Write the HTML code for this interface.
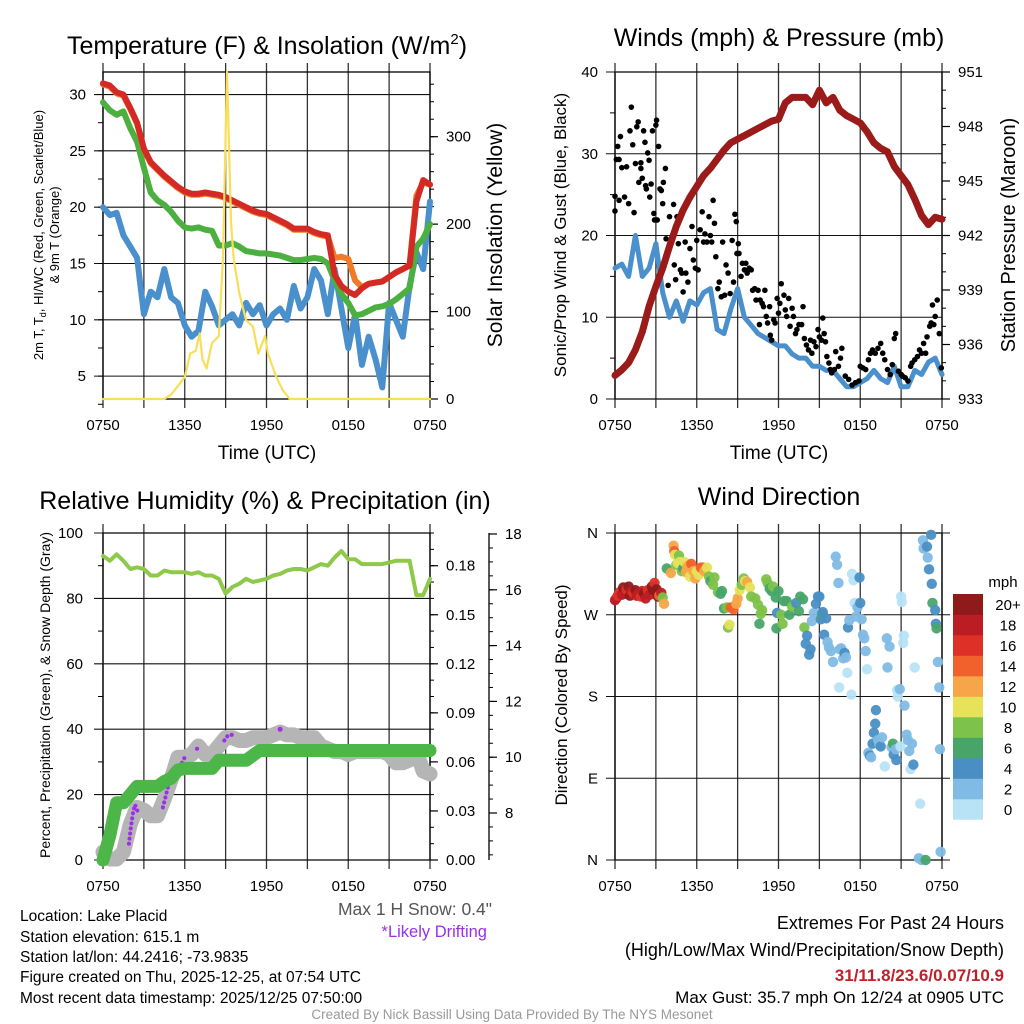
<!DOCTYPE html>
<html><head><meta charset="utf-8"><style>
html,body{margin:0;padding:0;background:#fff;}
svg{display:block;font-family:"Liberation Sans",sans-serif;}
</style></head><body>
<svg id="chart" width="1024" height="1024" viewBox="0 0 1024 1024" xmlns="http://www.w3.org/2000/svg">
<rect width="1024" height="1024" fill="#fff"/>
<text x="267" y="54" font-size="25" text-anchor="middle">Temperature (F) &amp; Insolation (W/m<tspan font-size="15" dy="-10">2</tspan><tspan dy="10">)</tspan></text>
<text x="779" y="46" font-size="25" text-anchor="middle">Winds (mph) &amp; Pressure (mb)</text>
<text x="265" y="509" font-size="25" text-anchor="middle">Relative Humidity (%) &amp; Precipitation (in)</text>
<text x="779" y="505" font-size="25" text-anchor="middle">Wind Direction</text>

<text transform="translate(43,235) rotate(-90)" font-size="13" text-anchor="middle">2m T, T<tspan font-size="9" dy="3">d</tspan><tspan dy="-3">, HI/WC (Red, Green, Scarlet/Blue)</tspan></text>
<text transform="translate(59,235) rotate(-90)" font-size="13" text-anchor="middle">&amp; 9m T (Orange)</text>
<text transform="translate(502,235) rotate(-90)" font-size="21" text-anchor="middle">Solar Insolation (Yellow)</text>
<text x="267" y="459" font-size="19" text-anchor="middle">Time (UTC)</text>

<text transform="translate(566,235) rotate(-90)" font-size="17" text-anchor="middle">Sonic/Prop Wind &amp; Gust (Blue, Black)</text>
<text transform="translate(1015,235) rotate(-90)" font-size="20" text-anchor="middle">Station Pressure (Maroon)</text>
<text x="779" y="459" font-size="19" text-anchor="middle">Time (UTC)</text>

<text transform="translate(50,695) rotate(-90)" font-size="14" text-anchor="middle">Percent, Precipitation (Green), &amp; Snow Depth (Gray)</text>
<text transform="translate(567,695) rotate(-90)" font-size="17" text-anchor="middle">Direction (Colored By Speed)</text>
<text x="1003" y="587" font-size="15" text-anchor="middle">mph</text>

<text x="492" y="915" font-size="17.5" fill="#555" text-anchor="end">Max 1 H Snow: 0.4"</text>
<text x="487" y="937" font-size="16.5" fill="#9b30e8" text-anchor="end">*Likely Drifting</text>
<g font-size="15.5">
<text x="20" y="921">Location: Lake Placid</text>
<text x="20" y="942">Station elevation: 615.1 m</text>
<text x="20" y="962">Station lat/lon: 44.2416; -73.9835</text>
<text x="20" y="982">Figure created on Thu, 2025-12-25, at 07:54 UTC</text>
<text x="20" y="1003">Most recent data timestamp: 2025/12/25 07:50:00</text>
</g>
<g font-size="17" text-anchor="end">
<text x="1004" y="929" font-size="18">Extremes For Past 24 Hours</text>
<text x="1004" y="956" font-size="18">(High/Low/Max Wind/Precipitation/Snow Depth)</text>
<text x="1004" y="981" font-weight="bold" fill="#c0202a">31/11.8/23.6/0.07/10.9</text>
<text x="1004" y="1003">Max Gust: 35.7 mph On 12/24 at 0905 UTC</text>
</g>
<text x="512" y="1019" font-size="13.5" fill="#999" text-anchor="middle">Created By Nick Bassill Using Data Provided By The NYS Mesonet</text>
<g id="layer"></g>
</svg>
<script>
// ---- shared time axis ----
const halfHours = [0,0.5,1,1.5,2,2.5,3,3.5,4,4.5,5,5.5,6,6.5,7,7.5,8,8.5,9,9.5,10,10.5,11,11.5,12,12.5,13,13.5,14,14.5,15,15.5,16,16.5,17,17.5,18,18.5,19,19.5,20,20.5,21,21.5,22,22.5,23,23.5,24];
const timeTickHours = [0,6,12,18,24];
const timeTickLabels = ["0750","1350","1950","0150","0750"];
// ---- panel 1 ----
const tempRed = [31,30.8,30.2,30,28.8,27.5,25.2,24,23.4,22.8,22.3,21.8,21.4,21.2,21.2,21.3,21.2,21.1,20.9,20.6,20.3,20,19.7,19.5,19.4,19.1,18.8,18.5,18.1,18.1,18.1,17.8,17.6,17.5,14,13,12.5,12.2,12.8,13.2,13.3,13.4,13.8,14.2,14.5,14.8,20.5,22.4,22];
const tempOrange = [30.9,30.7,30.1,29.9,28.7,27.4,25.1,23.9,23.3,22.7,22.2,21.7,21.3,21.1,21.1,21.2,21.1,21,20.8,20.5,20.2,19.9,19.6,19.4,19.3,19,18.7,18.4,18,18,18,17.7,17.5,17.4,15.5,15.6,15.4,13.5,12.9,13.2,13.3,13.4,13.8,14.2,14.5,14.9,21,22.2,22];
const dewGreen = [29.3,28.6,28.2,28.5,27,25.8,23.5,21.3,20.6,20.2,19.6,18.8,18.2,18.1,18.2,18,17.9,16.6,16.6,16.8,16.5,16.1,16,15.9,15.9,15.8,15.7,15.5,15.3,15.3,15.4,15.5,15.4,15,13.5,12.3,11.5,10.4,10.5,10.8,11.1,11.2,11.4,11.8,12.3,12.8,16.5,17.2,18.5];
const windChillBlue = [20,19.3,19.5,17.5,16.5,15.5,10.5,12.5,12,14.5,12,11.5,9.5,8.5,9,12.5,11.2,9.5,10,10.5,9.5,11.5,10.5,11.3,9.5,10.5,11,10,13,11,12,14.5,13.5,10.5,14.5,11,7.5,10.5,6,8.5,6.5,4,11.5,10,8.5,13,16,14.5,20.5];
const solarHours = [0,4.5,5,5.5,6,6.4,6.8,7.1,7.3,7.6,8,8.5,8.8,9.1,9.4,9.6,10,10.5,11,11.4,11.9,12.1,12.7,13.2,13.7,24];
const solarValues = [0,0,5,15,25,52,55,75,45,35,64,72,159,374,200,159,121,90,83,52,72,52,26,10,0,0];
const tempTicks = [5,10,15,20,25,30];
const solarTicks = [0,100,200,300];
// ---- panel 2 ----
const pressure = [934.3,934.6,935,935.7,936.7,938.1,939.2,940.2,941.4,942.5,943.4,944.1,944.7,945.3,945.7,946.2,946.7,947.1,947.3,947.5,947.7,947.9,948.1,948.3,948.4,949.3,949.6,949.6,949.6,949.2,950,949.3,949.6,948.9,948.6,948.4,948.2,947.7,947.1,946.8,946.6,945.8,945.3,944.8,944,943.1,942.6,943,942.9];
const windSpeed = [16,16.5,15,20,15,16,19,13,10,12,9.5,12,11.5,13,13.5,8.5,8,11,13.5,10,9,8,7.5,7,6.5,6.5,5.5,5,5,4,4,3.5,3.5,2.5,1.5,1.5,2,2.5,3.5,2.5,2,4,1.5,1.5,3.5,3,4.5,5,3];
const gustHours = [0,0,0.2,0.1,0.3,0.4,0.3,0.5,0.7,0.85,1,1.1,1.2,1.3,1.4,1.5,1.6,1.7,1.75,1.9,1.9,2,2.1,2.2,2.25,2.3,2.4,2.5,2.55,2.65,2.75,2.85,2.9,3,3.05,3.1,3.2,3.3,3.4,3.5,3.55,3.7,3.75,3.9,4,4.15,4.3,4.35,4.45,4.55,4.65,4.8,4.9,5,5.15,5.2,5.35,5.5,5.65,5.75,5.9,6,6.1,6.25,6.4,6.5,6.6,6.75,6.9,7,7.1,7.2,7.3,7.4,7.55,7.65,7.8,7.9,8.05,8.15,8.3,8.45,8.6,8.7,8.8,8.9,8.95,9.05,9.1,9.25,9.35,9.5,9.6,9.7,9.85,10,10.1,10.25,10.35,10.5,10.6,10.65,10.8,10.9,11,11.1,11.2,11.35,11.4,11.5,11.65,11.75,11.9,12,12.1,12.2,12.4,12.5,12.6,12.75,12.85,13,13.1,13.25,13.35,13.5,13.7,13.8,13.9,14.05,14.2,14.35,14.45,14.6,14.75,14.9,15,15.15,15.25,15.35,15.45,15.55,15.7,15.8,15.9,16.1,16.2,16.4,16.55,16.65,16.9,17.15,17.4,17.65,17.9,18,18.2,18.4,18.6,18.75,18.9,19.1,19.3,19.5,19.65,19.8,20,20.2,20.35,20.5,20.6,20.8,21,21.1,21.3,21.5,21.7,21.8,22,22.2,22.35,22.5,22.65,22.8,22.9,23.1,23.2,23.3,23.4,23.5,23.65,23.8,23.95];
const gustValues = [24.8,23,30.9,29.3,29.3,32.1,24.3,28.3,24.7,28.4,23.9,32.8,35.7,31.1,22.8,28.8,33.3,33.9,26.5,28.9,28.2,27,32.8,31.4,26.1,25.7,30.1,29.2,24.7,26.3,32.8,22.7,21.9,33.5,34.1,21.9,30.9,25.7,25.5,23.9,26.5,28.2,19.6,13.9,22.3,19.6,23.8,16.4,14.6,22.3,19,15.8,15.4,13.1,19.2,15.4,14.3,18.4,21.1,17,16,19.4,15.8,20.7,22.9,19.2,20.2,19.2,22.3,20,19.2,24.3,21.5,17.4,13.5,14.3,12.5,19.2,12.7,16.4,15.4,12.9,19.4,14.3,22.6,21.7,17.8,19,17.8,15,16.6,15.8,16.6,15.4,16,15.8,13.3,13.5,12.1,13.3,9.1,12.1,11.7,11.3,13.3,10.1,9.3,11.3,7.8,7.2,9.7,9.3,12.3,10.5,11.7,14.1,12.7,10.9,10.1,12.3,8.9,11.1,10.1,8,8.5,9.1,9.1,11.3,7.4,6.6,6,7.2,5.6,7,6.4,8.5,7.6,7.2,9.9,8,7,5.2,4.4,3.6,3.2,3.6,5.8,4,5,6.2,2.8,2.4,1.7,2,2.2,4,3.8,3.6,4.8,5.6,6,5.6,6.2,6.8,5.6,4.8,3.6,3,4.2,7.4,8,3.4,3,2.8,2.6,2.2,4,4.4,4.8,5.2,6,5.6,6.8,5.6,7.6,8.9,9.3,11.5,9.1,10.1,12.1,8,3.8];
const windTicks = [0,10,20,30,40];
const pressureTicks = [933,936,939,942,945,948,951];
// ---- panel 3 ----
const humidity = [93,91.5,93.5,91.5,89,89.5,89,87,87,88.5,88,88,88,87.5,88,87,87,86,81.5,83.5,84.5,86,85,85.5,86,87,87.5,88.5,89,89,88.5,89.5,90.5,90,92.5,94.5,92,92,90.5,90.5,90.5,90.5,91,91.5,91.5,91.5,81,81,86];
const precip = [0,0.015,0.035,0.035,0.04,0.045,0.045,0.045,0.045,0.048,0.05,0.055,0.056,0.056,0.056,0.056,0.056,0.061,0.061,0.061,0.061,0.061,0.064,0.067,0.067,0.067,0.067,0.067,0.067,0.067,0.067,0.067,0.067,0.067,0.067,0.067,0.067,0.067,0.067,0.067,0.067,0.067,0.067,0.067,0.067,0.067,0.067,0.067,0.067];
const snowDepth = [6.6,6.35,6.35,6.6,7.6,8.2,8.1,7.9,7.9,8.5,9.2,10,10,10.1,10.4,10.1,10.1,10.4,10.7,10.7,10.6,10.6,10.7,10.7,10.7,10.8,10.9,10.8,10.8,10.7,10.7,10.7,10.4,10.3,10.2,10.2,10.1,10.2,10.2,10.2,10.2,10.2,10.1,9.8,9.8,9.9,10.2,9.5,9.4];
const driftHours = [1.9,2.05,2.2,2.35,2.5,2.65,4.4,4.6,4.8,5,5.8,6,6.2,6.9,7.2,8.9,9.2,9.6,13];
const driftDepth = [6.9,7.5,8,8.3,8.1,8,8.2,8.6,9,9.3,9.8,10,9.9,10.3,10.3,10.6,10.8,10.8,11];
const driftSegment = [0,0,0,0,0,0,1,1,1,1,2,2,2,3,3,4,4,4,5];
const humidityTicks = [0,20,40,60,80,100];
const precipTicks = [0,0.03,0.06,0.09,0.12,0.15,0.18];
const snowTicks = [8,10,12,14,16,18];
// ---- panel 4 ----
const dirHours = [0,0.1,0.2,0.35,0.5,0.6,0.75,0.85,1,1.1,1.2,1.35,1.5,1.6,1.75,1.9,2,2.15,2.25,2.4,2.55,2.7,2.8,2.9,3.05,3.15,3.25,3.4,3.5,3.6,3.8,4.1,4.3,4.35,4.5,4.4,4.6,4.7,4.75,4.9,5,5.1,5.2,5.3,5.4,5.5,5.6,5.75,5.9,6,6.15,6.3,6.45,6.55,6.75,6.9,7,7.2,7.3,7.55,7.75,7.85,8,8.2,8.3,8.4,8.5,8.7,8.9,9,9.15,9.3,9.45,9.55,9.7,9.9,10,10.3,10.5,10.7,10.6,10.8,11.1,11.2,11.35,11.5,11.6,11.8,12,11.9,11.85,12.2,12.3,12.4,12.6,12.8,13,13.3,13.5,13.6,13.8,13.9,14,14.1,14.25,14.35,14.45,14.6,14.75,14.9,15,15.1,15.2,15.25,15.35,15.5,15.6,15.7,15.85,16,16.2,16.3,16.4,16.45,16.5,16.6,16.75,16.85,16.95,17.05,17.1,17.2,17.35,17.4,17.5,17.6,17.7,17.8,17.95,18,18.1,18.2,18.3,18.4,18.5,18.6,18.7,18.8,18.9,19,19.1,19.15,19.2,19.3,19.4,19.5,19.6,19.8,19.95,20,20.15,20.3,20.4,20.45,20.6,20.65,20.7,20.75,20.9,20.95,21,21.05,21.15,21.2,21.25,21.4,21.5,21.6,21.7,21.8,21.9,22,22.4,22.3,22.5,22.6,22.65,22.8,22.9,22.95,23.05,23.2,23.25,23.3,23.5,23.55,23.6,23.7,23.8,23.85,23.9];
const dirDegrees = [286,288,291,295,292,300,293,298,301,291,296,294,297,291,294,290,296,293,288,297,292,301,297,305,298,290,291,294,289,282,321,316,346,340,325,336,327,335,328,318,321,328,317,322,324,312,326,318,310,318,314,322,322,318,322,312,307,303,311,295,293,296,277,278,256,259,278,276,282,288,297,303,310,307,306,300,290,288,281,271,260,275,309,305,299,296,301,289,296,272,255,270,260,285,285,270,279,283,274,290,287,256,238,247,226,232,263,272,282,290,290,265,271,273,248,266,240,234,230,218,334,325,305,190,232,233,222,228,223,206,256,264,182,315,308,283,268,278,311,283,265,248,244,230,210,118,115,113,128,140,150,165,130,132,127,125,135,103,244,212,235,124,128,116,122,110,187,180,188,125,290,284,239,247,170,138,132,120,100,128,105,212,62,2,0,352,343,0,345,333,320,358,304,283,275,260,255,218,190,122,9];
const dirSpeed = [17,18,16,15,18,20,17,16,19,20,18,15,20,18,17,16,18,19,17,15,18,19,20,16,20,20,14,17,8,12,6,12,12,13,8,10,10,8,10,8,6,10,12,12,12,10,14,12,12,10,10,14,14,12,10,8,6,8,8,8,6,6,6,8,8,10,14,14,12,12,10,8,8,10,12,10,8,8,8,8,6,8,8,8,6,6,8,6,6,4,6,8,8,6,6,6,8,4,6,6,6,8,4,4,4,4,2,2,4,4,4,4,6,4,4,4,2,2,2,2,2,2,2,0,2,2,2,4,2,0,4,2,0,0,0,0,2,2,4,4,2,2,2,2,0,2,4,2,4,4,4,4,4,2,2,4,2,0,2,2,2,2,6,4,2,4,0,0,2,0,0,0,0,0,2,2,2,2,0,2,4,0,0,2,2,2,2,6,4,2,4,4,4,6,4,4,6,2,2,2,2];
const speedBinLabels = ["0","2","4","6","8","10","12","14","16","18","20+"];
const speedBinColors = ["#b8e3f7","#7fbbe5","#4a8fc4","#48a56a","#7dc24a","#e6e25a","#f6a648","#f0612b","#de3027","#bc1c24","#8e1a1a"];
const dirTickValues = [0,90,180,270,360];
const dirTickLabels = ["N","E","S","W","N"];

const NS = "http://www.w3.org/2000/svg";
const layer = document.getElementById("layer");
function el(tag, attrs, parent){
  const e = document.createElementNS(NS, tag);
  for (const k in attrs) e.setAttribute(k, attrs[k]);
  (parent || layer).appendChild(e);
  return e;
}
function panel(x0,x1,y0,y1,ymin,ymax){
  return {x0,x1,y0,y1,
    sx:h=>x0+h/24*(x1-x0),
    sy:v=>y1-(v-ymin)/(ymax-ymin)*(y1-y0)};
}
const P1 = panel(103,430,72,399,2.97,32);
const P1r = v=>399-v/374*327;
const P2 = panel(615,942,72,399,0,40);
const P2r = v=>399-(v-933)/18*327;
const P3 = panel(103,430,533,860,0,100);
const P3r = v=>860-v/0.2*327;
const P3s = v=>813-(v-8)*27.9;
const P4 = panel(615,942,533,860,0,360);

function frame(P, name){
  const g = el("g", {});
  
  
  for (let h=0; h<=24; h+=3){
    const x = P.sx(h);
    const l = el("line", {x1:x, x2:x, y1:P.y0-9, y2:P.y1+9, stroke:"#333", "stroke-width":1.3}, g);
    
    
  }
  const b = el("rect", {x:P.x0, y:P.y0, width:P.x1-P.x0, height:P.y1-P.y0, fill:"none", stroke:"#000", "stroke-width":1.3}, g);
  
  
  timeTickHours.forEach((h,i)=>{
    const t = el("text", {x:P.sx(h), y:P.y1+31, "font-size":15, "text-anchor":"middle"}, g);
    t.textContent = timeTickLabels[i];
    
    
  });
}
function hgrid(P, values, yf, labels, lx, name, extR){
  values.forEach((v,i)=>{
    const y = yf(v);
    const l = el("line", {x1:P.x0-9, x2:P.x1+(extR||0), y1:y, y2:y, stroke:"#111", "stroke-width":1.1});
    
    
    const t = el("text", {x:lx, y:y+5, "font-size":15, "text-anchor":"end"});
    t.textContent = labels ? labels[i] : v;
    
    
  });
}
function minorTicks(x, values, yf, len, name){
  values.forEach(v=>{
    const y = yf(v);
    const l = el("line", {x1:x, x2:x+len, y1:y, y2:y, stroke:"#000", "stroke-width":1});
    
    
  });
}
function rightAxis(x, ticks, yf, labels, lx, name){
  ticks.forEach((v,i)=>{
    const y = yf(v);
    const l = el("line", {x1:x, x2:x+8, y1:y, y2:y, stroke:"#000", "stroke-width":1.2});
    
    
    const t = el("text", {x:lx, y:y+5, "font-size":15});
    t.textContent = labels ? labels[i] : v;
    
    
  });
}
function line(xs, ys, sx, sy, color, w, name){
  const pts = xs.map((h,i)=>sx(h).toFixed(1)+","+sy(ys[i]).toFixed(1)).join(" ");
  const p = el("polyline", {points:pts, fill:"none", stroke:color, "stroke-width":w, "stroke-linejoin":"round", "stroke-linecap":"round"});
  
  
  return p;
}
function range(a,b,s){const r=[];for(let v=a;v<=b+1e-9;v+=s)r.push(+v.toFixed(4));return r;}

// ===== Panel 1 =====
frame(P1, "temperature");
hgrid(P1, tempTicks, P1.sy, null, 86, "temperature");
minorTicks(P1.x0-5, range(2.5,32,2.5), P1.sy, 5, "temperature-minor-tick");
minorTicks(P1.x1, range(0,370,20), P1r, 4, "insolation-minor-tick");
rightAxis(P1.x1, solarTicks, P1r, null, 446, "insolation");
line(halfHours, windChillBlue, P1.sx, P1.sy, "#4a90cc", 6, "wind-chill-line");
line(halfHours, dewGreen, P1.sx, P1.sy, "#4bb040", 6, "dewpoint-line");
line(halfHours, tempOrange, P1.sx, P1.sy, "#f07a28", 6, "temp-9m-line");
line(halfHours, tempRed, P1.sx, P1.sy, "#d42a26", 6, "temp-2m-line");
line(solarHours, solarValues, P1.sx, P1r, "#f7df5a", 2.2, "insolation-line");

// ===== Panel 2 =====
frame(P2, "wind");
hgrid(P2, windTicks, P2.sy, null, 598, "wind");
minorTicks(P2.x0-5, range(5,35,10), P2.sy, 5, "wind-minor-tick");
minorTicks(P2.x1, range(933,951,1), P2r, 4, "pressure-minor-tick");
rightAxis(P2.x1, pressureTicks, P2r, null, 958, "pressure");
line(halfHours, windSpeed, P2.sx, P2.sy, "#4a90cc", 5, "wind-speed-line");
gustHours.forEach((h,i)=>{
  const c = el("circle", {cx:P2.sx(h), cy:P2.sy(gustValues[i]), r:2.8, fill:"#000"});
  
  
});
line(halfHours, pressure, P2.sx, P2r, "#9b1b1b", 7, "pressure-line");

// ===== Panel 3 =====
frame(P3, "humidity");
hgrid(P3, humidityTicks, P3.sy, null, 83, "humidity");
minorTicks(P3.x0-5, range(10,90,20), P3.sy, 5, "humidity-minor-tick");
minorTicks(P3.x1, range(0,0.2,0.01), P3r, 4, "precip-minor-tick");
rightAxis(P3.x1, precipTicks, P3r, precipTicks.map(v=>v.toFixed(2)), 446, "precip");
const snowAxis = el("line", {x1:489, x2:489, y1:533, y2:860, stroke:"#000", "stroke-width":1.3});


minorTicks(489, range(6.5,18,0.5), P3s, 4, "snow-minor-tick");
rightAxis(489, snowTicks, P3s, null, 505, "snow-depth");
line(halfHours, snowDepth, P3.sx, P3s, "#b5b5b5", 15, "snow-depth-line");
for (let s=0; s<=5; s++){
  const hs = driftHours.filter((h,i)=>driftSegment[i]===s);
  const ds = driftDepth.filter((d,i)=>driftSegment[i]===s);
  const p = line(hs, ds, P3.sx, P3s, "#9b30e8", 4, "drifting-segment");
  p.setAttribute("stroke-dasharray", "0.1 5");
  if (hs.length===1){
    const c = el("circle", {cx:P3.sx(hs[0]), cy:P3s(ds[0]), r:2.5, fill:"#9b30e8"});
    
    
  }
}
line(halfHours, precip, P3.sx, P3r, "#4cb648", 13, "precipitation-line");
line(halfHours, humidity, P3.sx, P3.sy, "#8ec94a", 4, "humidity-line");

// ===== Panel 4 =====
frame(P4, "direction");
hgrid(P4, dirTickValues, P4.sy, dirTickLabels, 598, "direction", 8);
dirHours.forEach((h,i)=>{
  const bin = Math.min(10, Math.round(dirSpeed[i]/2));
  const c = el("circle", {cx:P4.sx(h), cy:P4.sy(dirDegrees[i]), r:5.2, fill:speedBinColors[bin], opacity:0.95});
  
  
});
speedBinLabels.forEach((lab,i)=>{
  const k = 10-i;
  const y = 594 + k*20.5;
  const r = el("rect", {x:953, y:y, width:30, height:20.8, fill:speedBinColors[i]});
  
  
  const t = el("text", {x:1008, y:y+16, "font-size":15, "text-anchor":"middle"});
  t.textContent = lab;
  
  
});
</script>
</body></html>
